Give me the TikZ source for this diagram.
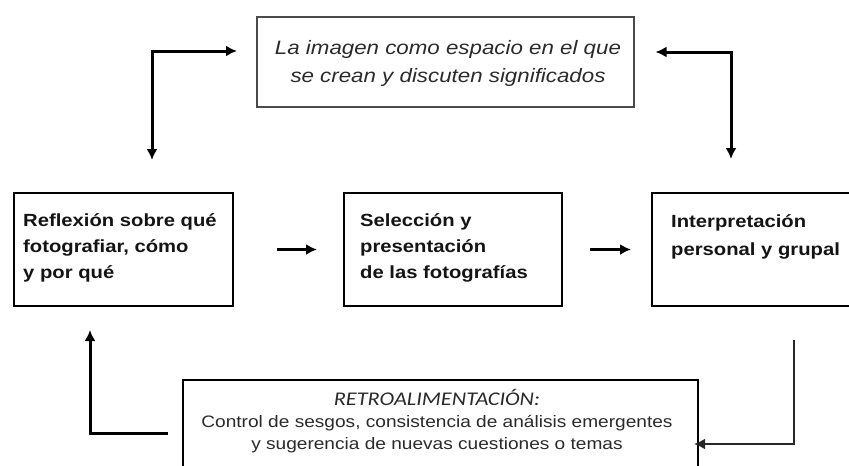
\documentclass[tikz,border=0pt]{standalone}
\usepackage{fontspec}
\setmainfont{Liberation Sans}[FakeStretch=1.15]
\newfontfamily\calfont{Carlito}[FakeStretch=1.15]
\usetikzlibrary{arrows.meta}
\definecolor{txtgray}{HTML}{2A2A2A}
\definecolor{boxgray}{HTML}{4A4A4A}
\tikzset{
  box/.style={draw=black, line width=2pt, rectangle, inner sep=0pt, anchor=north west},
  topbox/.style={draw=boxgray, line width=1.5pt, rectangle, inner sep=0pt, anchor=north west},
  boldtxt/.style={anchor=north west, inner sep=0pt, align=left, text=black!92,
    font=\bfseries\fontsize{17.6}{26}\selectfont},
  arr/.style={line width=3pt, -{Latex[length=11pt,width=11pt]}},
  dblarr/.style={line width=3pt, {Latex[length=11pt,width=11pt]}-{Latex[length=11pt,width=11pt]}},
  fbarr/.style={line width=2.2pt, draw=black!85, -{Latex[length=11pt,width=11pt]}}
}
\begin{document}
\begin{tikzpicture}[x=1pt,y=-1pt]
\useasboundingbox (0,0) rectangle (849,466);
% boxes
\node[topbox, minimum width=377pt, minimum height=90pt] (T) at (256,16) {};
\node[box, minimum width=219pt, minimum height=113pt] (L) at (13,192) {};
\node[box, minimum width=218pt, minimum height=113pt] (M) at (343,192) {};
\node[box, minimum width=204pt, minimum height=113pt] (R) at (651,192) {};
\node[box, minimum width=515pt, minimum height=100pt] (B) at (182,379) {};
% texts
\node[anchor=north, inner sep=0pt, align=center, text=txtgray,
  font=\itshape\fontsize{19.4}{28}\selectfont] (Tt) at (448,35)
  {\strut La imagen como espacio en el que\\se crean y discuten significados};
\node[boldtxt] (Lt) at (23,208) {\strut Reflexión sobre qué\\fotografiar, cómo\\y por qué};
\node[boldtxt] (Mt) at (360,208) {\strut Selección y\\presentación\\de las fotografías};
\node[boldtxt, font=\bfseries\fontsize{17.6}{28}\selectfont] (Rt) at (671,208) {\strut Interpretación\\personal y grupal};
\node[anchor=north, inner sep=0pt, align=center, text=txtgray,
  font=\fontsize{16.6}{22}\selectfont] (Bt) at (437,389)
  {\strut{\calfont\itshape\fontsize{19.4}{22}\selectfont RETROALIMENTACIÓN:}\\
   Control de sesgos, consistencia de análisis emergentes\\
   y sugerencia de nuevas cuestiones o temas};
% connector corners
\coordinate (c1) at (152,51);
\coordinate (c2) at (731,52);
\coordinate (c4) at (794,444);
\coordinate (c5) at (90,433);
% connectors
\draw[dblarr, shorten <=32pt, shorten >=19pt] (c1 |- L.north) -- (c1) -- (c1 -| T.west);
\draw[dblarr, shorten <=21pt, shorten >=33pt] (c2 -| T.east) -- (c2) -- (c2 |- R.north);
\draw[arr, shorten <=43pt, shorten >=26pt] (L.east) -- (M.west);
\draw[arr, shorten <=27pt, shorten >=20pt] (M.east) -- (R.west);
\draw[fbarr, shorten <=33pt, shorten >=-5pt] (c4 |- R.south) -- (c4) -- (c4 -| B.east);
\draw[arr, shorten <=14pt, shorten >=23pt] (c5 -| B.west) -- (c5) -- (c5 |- L.south);
\end{tikzpicture}
\end{document}
